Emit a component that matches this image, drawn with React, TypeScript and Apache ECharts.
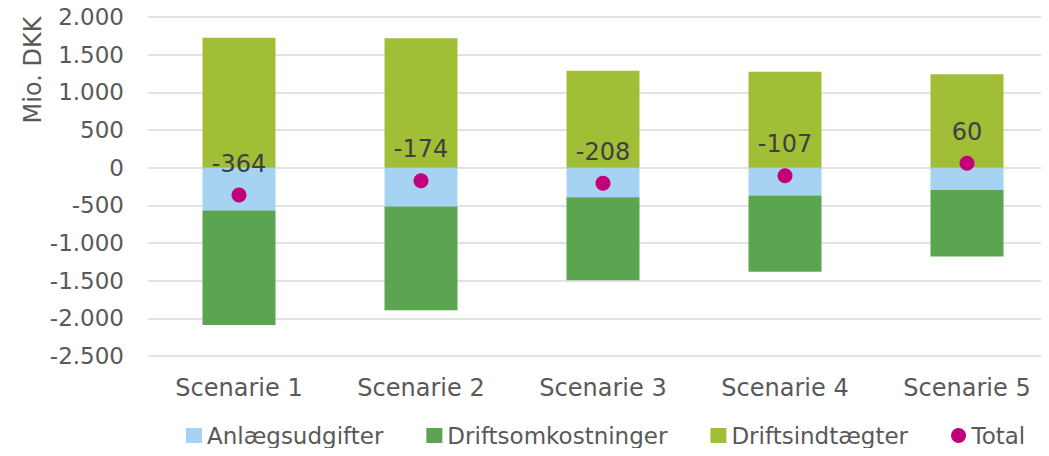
import React, { useEffect, useRef } from "react";
import * as echarts from "echarts";

const categories = ["Scenarie 1", "Scenarie 2", "Scenarie 3", "Scenarie 4", "Scenarie 5"];
const anlaeg = [-568, -516, -393, -370, -295];
const driftsomk = [-1522, -1376, -1102, -1010, -885];
const driftsindt = [1726, 1718, 1287, 1273, 1240];
const total = [-364, -174, -208, -107, 60];

const FONT = "DejaVu Sans";
const TXT = "#595959";

const fmt = (v: number) => {
  const s = Math.abs(v).toString().replace(/\B(?=(\d{3})+(?!\d))/g, ".");
  return (v < 0 ? "-" : "") + s;
};

export default function App() {
  const ref = useRef<HTMLDivElement>(null);
  useEffect(() => {
    const chart = echarts.init(ref.current!, undefined, { renderer: "svg" });
    chart.setOption({
      animation: false,
      textStyle: { fontFamily: FONT },
      grid: { left: 148, top: 17, width: 910, height: 339, containLabel: false },
      graphic: [
        {
          type: "text",
          x: 33,
          y: 70,
          rotation: Math.PI / 2,
          style: {
            text: "Mio. DKK",
            fontFamily: FONT,
            fontSize: 24,
            fill: TXT,
            align: "center",
            verticalAlign: "middle",
          },
        },
      ],
      legend: {
        left: 181,
        top: 419,
        itemWidth: 16,
        itemHeight: 15,
        itemGap: 43,
        textStyle: { fontFamily: FONT, fontSize: 23, color: TXT },
        data: [
          { name: "Anlægsudgifter", icon: "rect" },
          { name: "Driftsomkostninger", icon: "rect" },
          { name: "Driftsindtægter", icon: "rect" },
          { name: "Total", icon: "circle" },
        ],
      },
      xAxis: {
        type: "category",
        data: categories,
        axisLine: { show: false },
        axisTick: { show: false },
        axisLabel: { fontFamily: FONT, fontSize: 24, color: TXT, margin: 20 },
      },
      yAxis: {
        type: "value",
        min: -2500,
        max: 2000,
        interval: 500,
        axisLabel: { fontFamily: FONT, fontSize: 23, color: TXT, margin: 24, formatter: fmt },
        splitLine: { lineStyle: { color: "#D9D9D9", width: 1.5 } },
      },
      series: [
        {
          name: "Anlægsudgifter",
          type: "bar",
          stack: "s",
          data: anlaeg,
          barWidth: 73,
          itemStyle: { color: "#A6D3F2" },
        },
        {
          name: "Driftsomkostninger",
          type: "bar",
          stack: "s",
          data: driftsomk,
          barWidth: 73,
          itemStyle: { color: "#5BA550" },
        },
        {
          name: "Driftsindtægter",
          type: "bar",
          stack: "s",
          data: driftsindt,
          barWidth: 73,
          itemStyle: { color: "#A1BE37" },
        },
        {
          name: "Total",
          type: "scatter",
          data: total,
          symbol: "circle",
          symbolSize: 15,
          z: 5,
          itemStyle: { color: "#C2007A", opacity: 1 },
          label: {
            show: true,
            position: "top",
            distance: 12,
            fontFamily: FONT,
            fontSize: 24,
            color: "#404040",
            formatter: (p: any) => fmt(p.value),
          },
        },
      ],
    });
    return () => chart.dispose();
  }, []);
  return (
    <div style={{ width: 1049, height: 456, margin: -8, overflow: "hidden" }}>
      <div ref={ref} style={{ width: 1066, height: 456 }} />
    </div>
  );
}
